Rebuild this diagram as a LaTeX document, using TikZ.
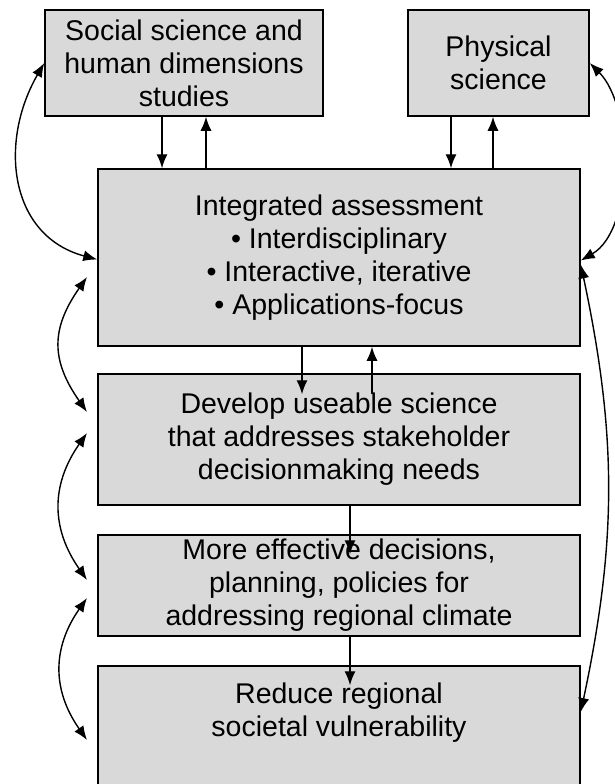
\documentclass[tikz,border=0pt]{standalone}
\usepackage{fontspec}
\setmainfont{Liberation Sans}
\usetikzlibrary{arrows.meta}
\definecolor{boxgray}{HTML}{D9D9D9}
\tikzset{
  box/.style={draw, line width=1.5pt, fill=boxgray, align=center, inner sep=0pt,
    font=\fontsize{28.5}{33}\selectfont},
  arr/.style={line width=1.4pt, -{Latex[length=14pt,width=11pt]}},
  twoway/.style={line width=1.4pt, {Latex[length=14pt,width=11pt]}-{Latex[length=14pt,width=11pt]}}
}
\begin{document}
\begin{tikzpicture}[x=1pt,y=1pt]
	\useasboundingbox (0,0) rectangle (615,-784);
	\clip (0,0) rectangle (615,-784);
	\node [box, minimum width=278pt, minimum height=106pt] (soc) at (184,-63) {Social science and\\human dimensions\\studies};
	\node [box, minimum width=181pt, minimum height=106pt] (phys) at (498.5,-63) {Physical\\science};
	\node [box, minimum width=482pt, minimum height=177pt] (integ) at (339,-257.5) {Integrated assessment\\\textbullet{} Interdisciplinary\\\textbullet{} Interactive, iterative\\\textbullet{} Applications-focus};
	\node [box, minimum width=482pt, minimum height=131pt] (dev) at (339,-439.5) {Develop useable science\\that addresses stakeholder\\decisionmaking needs};
	\node [box, minimum width=482pt, minimum height=101pt] (eff) at (339,-585.5) {More effective decisions,\\planning, policies for\\addressing regional climate};
	\node [box, minimum width=482pt, minimum height=134pt] (red) at (339,-733) {\raisebox{13pt}[0pt][0pt]{\begin{tabular}{@{}c@{}}Reduce regional\\societal vulnerability\end{tabular}}};
	\draw [arr] ([xshift=-22pt]soc.south) -- ([xshift=-22pt]soc.south |- integ.north);
	\draw [arr] ([xshift=22pt]soc.south |- integ.north) -- ([xshift=22pt]soc.south);
	\draw [arr] ([xshift=-47.5pt]phys.south) -- ([xshift=-47.5pt]phys.south |- integ.north);
	\draw [arr] ([xshift=-5.5pt]phys.south |- integ.north) -- ([xshift=-5.5pt]phys.south);
	\draw [arr] ([xshift=-37pt]integ.south) -- ([xshift=-37pt,yshift=-21pt]dev.north);
	\draw [arr] ([xshift=33pt,yshift=-21pt]dev.north) -- ([xshift=33pt]integ.south);
	\draw [arr] ([xshift=11pt]dev.south) -- ([xshift=11pt,yshift=-20pt]eff.north);
	\draw [arr] ([xshift=11pt]eff.south) -- ([xshift=11pt,yshift=-20pt]red.north);
	\coordinate (l2a) at (87,-277);
	\coordinate (l2b) at (87,-412);
	\coordinate (l3a) at (87,-433);
	\coordinate (l3b) at (87,-580);
	\coordinate (l4a) at (87,-598);
	\coordinate (l4b) at (87,-740);
	\draw [twoway] (soc.west) to [out=240,in=165,looseness=1.15] ([yshift=-2pt]integ.west);
	\draw [twoway] (l2a) to [out=235,in=125,looseness=1.2] (l2b);
	\draw [twoway] (l3a) to [out=235,in=125,looseness=1.1] (l3b);
	\draw [twoway] (l4a) to [out=235,in=125,looseness=1.1] (l4b);
	\draw [twoway] (phys.east) to [out=-45,in=30,looseness=0.8] ([yshift=-3pt]integ.east);
	\draw [twoway] ([yshift=-7pt]integ.east) to [out=-78,in=78] ([yshift=21pt]red.east);
\end{tikzpicture}
\end{document}
